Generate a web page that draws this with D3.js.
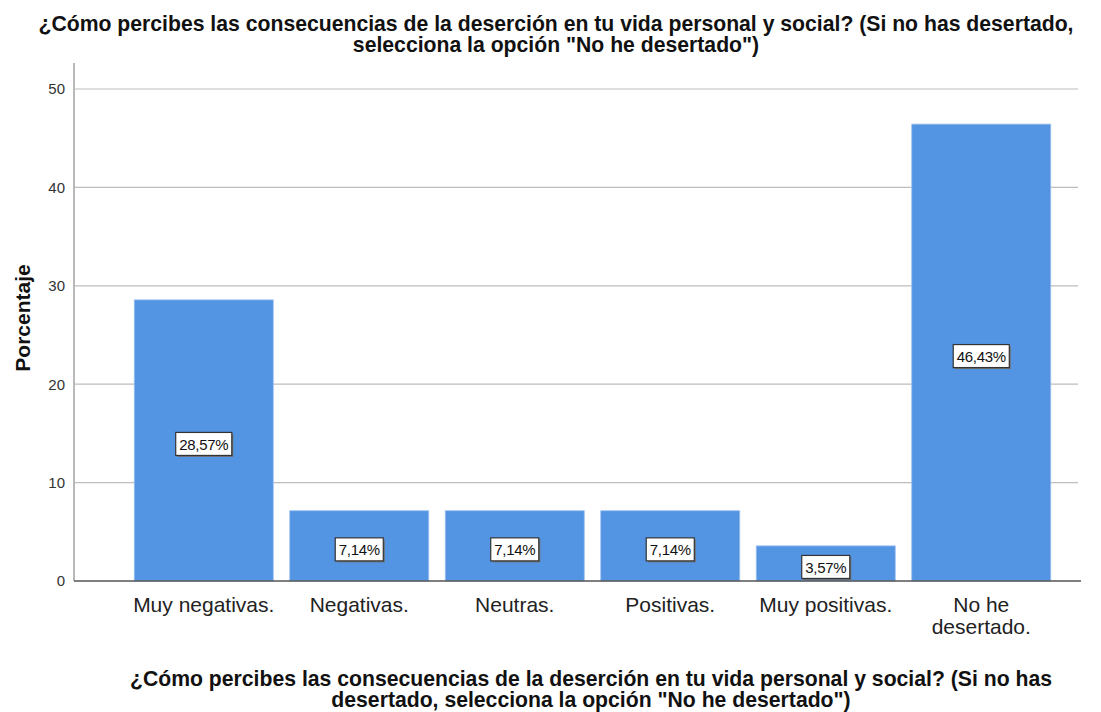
<!DOCTYPE html>
<html>
<head>
<meta charset="utf-8">
<script src="https://cdn.jsdelivr.net/npm/d3@7"></script>
<style>
  body { margin: 0; background: #fff; }
  text { font-family: "Liberation Sans", Arial, sans-serif; }
</style>
</head>
<body>
<div id="chart"></div>
<script>
var categories = [["Muy negativas."], ["Negativas."], ["Neutras."], ["Positivas."], ["Muy positivas."], ["No he", "desertado."]];
var percentages = [28.57, 7.14, 7.14, 7.14, 3.57, 46.43];
var valueLabels = ["28,57%", "7,14%", "7,14%", "7,14%", "3,57%", "46,43%"];
var yTicks = [0, 10, 20, 30, 40, 50];
var titleLines = ["¿Cómo percibes las consecuencias de la deserción en tu vida personal y social? (Si no has desertado,",
    "selecciona la opción \"No he desertado\")"];
var xTitleLines = ["¿Cómo percibes las consecuencias de la deserción en tu vida personal y social? (Si no has",
    "desertado, selecciona la opción \"No he desertado\")"];

var width = 1101,
    height = 712;

var svg = d3.select("#chart").append("svg")
    .attr("width", width)
    .attr("height", height);

var x = d3.scaleBand()
    .domain(d3.range(categories.length))
    .range([126, 1059])
    .paddingInner(0.106)
    .paddingOuter(0.053);

var y = d3.scaleLinear().domain([0, 50]).range([581, 89]);

// gridlines
svg.append("g")
    .selectAll("line")
    .data(yTicks.slice(1))
    .enter().append("line")
    .attr("x1", 75).attr("x2", 1078)
    .attr("y1", function (d) { return y(d); })
    .attr("y2", function (d) { return y(d); })
    .attr("stroke", "#bdbdbd")
    .attr("stroke-width", 1.2);

// y axis
var yAxis = d3.axisLeft(y).tickValues(yTicks).tickSize(0).tickPadding(9);
var gy = svg.append("g")
    .attr("transform", "translate(74,0)")
    .call(yAxis);
gy.select(".domain").remove();
gy.selectAll("text")
    .style("font-size", "15px")
    .attr("fill", "#333");
svg.append("line")
    .attr("x1", 74).attr("x2", 74)
    .attr("y1", 63).attr("y2", 581)
    .attr("stroke", "#8a8a8a")
    .attr("stroke-width", 1.2);

// bars
var bars = svg.selectAll(".bar").data(percentages).enter();
bars.append("rect")
    .attr("class", "bar")
    .attr("x", function (d, i) { return x(i); })
    .attr("width", x.bandwidth())
    .attr("y", function (d) { return y(d); })
    .attr("height", function (d) { return y(0) - y(d); })
    .attr("fill", "#5394e3")
    .attr("stroke", "#9cc0ee")
    .attr("stroke-width", 0.8);

// baseline
svg.append("line")
    .attr("x1", 74).attr("x2", 1081)
    .attr("y1", 581).attr("y2", 581)
    .attr("stroke", "#555")
    .attr("stroke-width", 1.4);

// value labels
var labels = svg.selectAll(".vlabel").data(percentages).enter()
    .append("g")
    .attr("class", "vlabel")
    .attr("transform", function (d, i) {
        return "translate(" + (x(i) + x.bandwidth() / 2) + "," + ((y(d) + y(0)) / 2 + 4) + ")";
    });
labels.each(function (d, i) {
    var g = d3.select(this);
    var t = g.append("text")
        .attr("text-anchor", "middle")
        .attr("dy", "0.36em")
        .style("font-size", "15px")
        .style("letter-spacing", "-0.3px")
        .attr("fill", "#111")
        .text(valueLabels[i]);
    var w = t.node().getComputedTextLength() + 7;
    g.insert("rect", "text")
        .attr("x", -w / 2 + 1.5).attr("y", -10.5)
        .attr("width", w).attr("height", 23)
        .attr("fill", "#707070");
    g.insert("rect", "text")
        .attr("x", -w / 2).attr("y", -12)
        .attr("width", w).attr("height", 23)
        .attr("fill", "#fff")
        .attr("stroke", "#333")
        .attr("stroke-width", 1.2);
});

// category labels
svg.selectAll(".cat").data(categories).enter()
    .append("text")
    .attr("class", "cat")
    .attr("text-anchor", "middle")
    .style("font-size", "21px")
    .attr("fill", "#222")
    .each(function (d, i) {
        d3.select(this).selectAll("tspan").data(d).enter().append("tspan")
            .attr("x", x(i) + x.bandwidth() / 2)
            .attr("y", function (s, j) { return 612 + j * 22; })
            .text(function (s) { return s; });
    });

// title
svg.append("text")
    .attr("text-anchor", "middle")
    .style("font-size", "21.2px")
    .style("font-weight", "bold")
    .attr("fill", "#111")
    .selectAll("tspan").data(titleLines).enter().append("tspan")
    .attr("x", 556)
    .attr("y", function (d, i) { return 31 + i * 21; })
    .text(function (d) { return d; });

// x title
svg.append("text")
    .attr("text-anchor", "middle")
    .style("font-size", "21.2px")
    .style("font-weight", "bold")
    .attr("fill", "#111")
    .selectAll("tspan").data(xTitleLines).enter().append("tspan")
    .attr("x", 591)
    .attr("y", function (d, i) { return 686 + i * 21; })
    .text(function (d) { return d; });

// y title
svg.append("text")
    .attr("transform", "translate(30,318) rotate(-90)")
    .attr("text-anchor", "middle")
    .style("font-size", "21px")
    .style("font-weight", "bold")
    .attr("fill", "#111")
    .text("Porcentaje");
</script>
</body>
</html>
